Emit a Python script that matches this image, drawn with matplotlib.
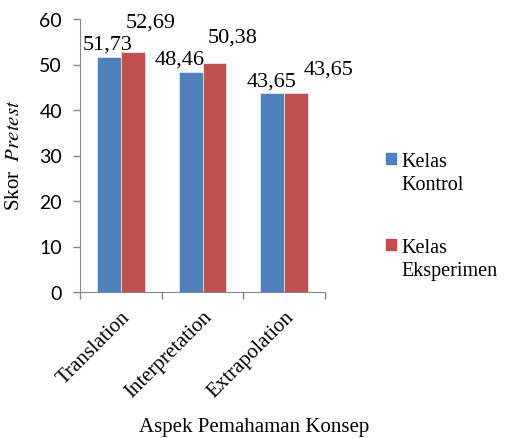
import numpy as np
import matplotlib
matplotlib.use('Agg')
import matplotlib.pyplot as plt
from matplotlib.patches import Rectangle
import matplotlib.transforms as mtransforms

plt.rcParams['mathtext.fontset'] = 'stix'

aspek = ['Translation', 'Interpretation', 'Extrapolation']
kontrol = [51.73, 48.46, 43.65]
eksperimen = [52.69, 50.38, 43.65]
seri = [['Kelas', 'Kontrol'], ['Kelas', 'Eksperimen']]

# label offsets (pixels) copied from the Excel layout
off_k = [(-1, 8), (-11, 8), (-1, 8)]
off_e = [(18, 26), (18, 21), (33, 20)]

c_blue = '#4F81BD'
c_red = '#C0504D'
serif = 'Liberation Serif'
sans = 'Lato'
W, H = 505, 439

fig = plt.figure(figsize=(W/100, H/100), dpi=100)
ax = fig.add_axes([80/W, 1-293/H, 245/W, 273/H])

x = np.arange(len(aspek))
w = 0.29
ax.bar(x - w/2, kontrol, w, color=c_blue, edgecolor='white', linewidth=0.4)
ax.bar(x + w/2, eksperimen, w, color=c_red, edgecolor='white', linewidth=0.4)

for i in range(len(aspek)):
    ax.annotate(('%.2f' % kontrol[i]).replace('.', ','), (x[i]-w/2, kontrol[i]),
                xytext=off_k[i], textcoords='offset pixels', ha='center', va='baseline',
                fontsize=16, family=serif)
    ax.annotate(('%.2f' % eksperimen[i]).replace('.', ','), (x[i]+w/2, eksperimen[i]),
                xytext=off_e[i], textcoords='offset pixels', ha='center', va='baseline',
                fontsize=16, family=serif)

ax.set_xlim(-0.5, 2.5)
ax.set_ylim(0, 60)
ax.set_yticks(range(0, 61, 10))
ax.set_xticks([-0.5, 0.5, 1.5, 2.5])
ax.set_xticklabels([])
ax.set_xticks(x, minor=True)
ax.set_xticklabels(aspek, minor=True, rotation=45, ha='right', rotation_mode='anchor',
                   fontsize=15, family=serif)
shift = mtransforms.ScaledTranslation(-5/100, 0, fig.dpi_scale_trans)
for lab in ax.get_xticklabels(minor=True):
    lab.set_transform(lab.get_transform() + shift)
ax.tick_params(axis='x', which='minor', length=0, pad=11)
ax.tick_params(axis='both', which='major', length=5, direction='out', color='#868686', width=1)
ax.tick_params(axis='y', pad=8)
for lab in ax.get_yticklabels():
    lab.set_family(sans)
    lab.set_fontsize(14)

for s in ['top', 'right']:
    ax.spines[s].set_visible(False)
for s in ['left', 'bottom']:
    ax.spines[s].set_color('#868686')

fig.text(15/W, 1-155/H, r'Skor  $\mathit{Pretest}$', rotation=90, ha='center', va='center',
         fontsize=15, family=serif)
fig.text(254/W, 1-428/H, 'Aspek Pemahaman Konsep', ha='center', va='center',
         fontsize=15, family=serif)

# legend drawn by hand so the square sits on the first line
leg_y = [167, 253]
for k, col in enumerate([c_blue, c_red]):
    yb = leg_y[k]
    fig.patches.append(Rectangle((386/W, 1-(yb-2)/H), 10/W, 11/H, transform=fig.transFigure,
                                 color=col, figure=fig))
    fig.text(401/W, 1-yb/H, seri[k][0], ha='left', va='baseline', fontsize=14.5, family=serif)
    fig.text(401/W, 1-(yb+23)/H, seri[k][1], ha='left', va='baseline', fontsize=14.5, family=serif)

plt.savefig('out.png', dpi=100)
